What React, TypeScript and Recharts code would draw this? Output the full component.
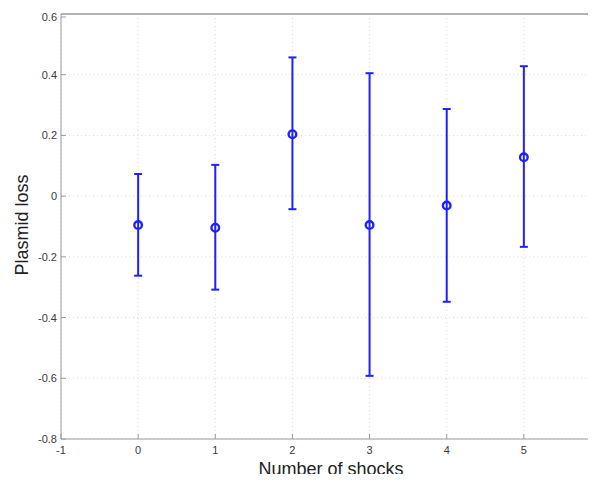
import React from 'react';
import { ComposedChart, Scatter, ErrorBar, XAxis, YAxis, CartesianGrid, Label, ReferenceLine } from 'recharts';

// Plasmid loss by number of shocks: mean with lower / upper bounds
const shocks = [0, 1, 2, 3, 4, 5];
const meanLoss = [-0.095, -0.104, 0.204, -0.095, -0.031, 0.128];
const lowerLoss = [-0.262, -0.308, -0.043, -0.592, -0.348, -0.167];
const upperLoss = [0.073, 0.103, 0.457, 0.405, 0.287, 0.428];

const xTicks = [-1, 0, 1, 2, 3, 4, 5, 6];
const yTicks = [-0.8, -0.6, -0.4, -0.2, 0, 0.2, 0.4, 0.6];

const points = shocks.map((s, i) => ({
  x: s,
  y: meanLoss[i],
  err: [meanLoss[i] - lowerLoss[i], upperLoss[i] - meanLoss[i]],
}));

const BLUE = '#2020ff';
const AXIS = '#9a9a9a';
const TEXT = '#3a3a3a';
const FONT = '"Liberation Sans", Arial, Helvetica, sans-serif';

const fmtY = (v: number) => (v === 0 ? '0' : v.toFixed(1));

const BottomTick = (props: any) => {
  const { x, y, payload } = props;
  return (
    <g>
      <line x1={x} x2={x} y1={y} y2={y - 5} stroke={AXIS} strokeWidth={1} />
      <text x={x} y={y + 15} textAnchor="middle" fontSize={11} fill={TEXT} fontFamily={FONT}>
        {payload.value}
      </text>
    </g>
  );
};

const TopTick = (props: any) => {
  const { x, y } = props;
  return <line x1={x} x2={x} y1={y} y2={y + 5} stroke={AXIS} strokeWidth={1} />;
};

const LeftTick = (props: any) => {
  const { x, y, payload } = props;
  return (
    <g>
      <line x1={x} x2={x + 5} y1={y} y2={y} stroke={AXIS} strokeWidth={1} />
      <text x={x - 4} y={y + 4} textAnchor="end" fontSize={11} fill={TEXT} fontFamily={FONT}>
        {fmtY(payload.value)}
      </text>
    </g>
  );
};

const Marker = (props: any) => {
  const { cx, cy } = props;
  return <circle cx={cx} cy={cy} r={3.8} fill="none" stroke={BLUE} strokeWidth={2.4} />;
};

export default function App() {
  return (
    <div style={{ height: 474, marginBottom: -8 }}>
      <ComposedChart
        width={588}
        height={474}
        margin={{ top: 5, right: -5, bottom: 0, left: 0 }}
        style={{ fontFamily: FONT }}
      >
        <CartesianGrid stroke="#dcdcdc" strokeDasharray="1 3" />
        <XAxis
          xAxisId="top"
          orientation="top"
          type="number"
          dataKey="x"
          domain={[-1, 6]}
          ticks={xTicks}
          height={1}
          tickSize={0}
          tickMargin={0}
          stroke={AXIS}
          tick={(p: any) => <TopTick {...p} />}
        />
        <XAxis
          type="number"
          dataKey="x"
          domain={[-1, 6]}
          ticks={xTicks}
          height={43}
          tickSize={0}
          tickMargin={0}
          stroke={AXIS}
          tick={(p: any) => <BottomTick {...p} />}
        >
          <Label
            content={() => (
              <text x={323} y={467} textAnchor="middle" fontSize={18} fill="#222" fontFamily={FONT}>
                Number of shocks
              </text>
            )}
          />
        </XAxis>
        <YAxis
          type="number"
          dataKey="y"
          domain={[-0.8, 0.6]}
          ticks={yTicks}
          width={53}
          tickSize={0}
          tickMargin={0}
          stroke={AXIS}
          tick={(p: any) => <LeftTick {...p} />}
        >
          <Label
            content={() => (
              <text
                x={20}
                y={217}
                transform="rotate(-90, 20, 217)"
                textAnchor="middle"
                fontSize={18}
                fill="#222"
                fontFamily={FONT}
              >
                Plasmid loss
              </text>
            )}
          />
        </YAxis>
        <ReferenceLine y={yTicks[yTicks.length - 1]} stroke={AXIS} strokeWidth={1} />
        <Scatter data={points} dataKey="y" shape={<Marker />} isAnimationActive={false}>
          <ErrorBar dataKey="err" direction="y" width={4} stroke={BLUE} strokeWidth={2} isAnimationActive={false} />
        </Scatter>
      </ComposedChart>
    </div>
  );
}
